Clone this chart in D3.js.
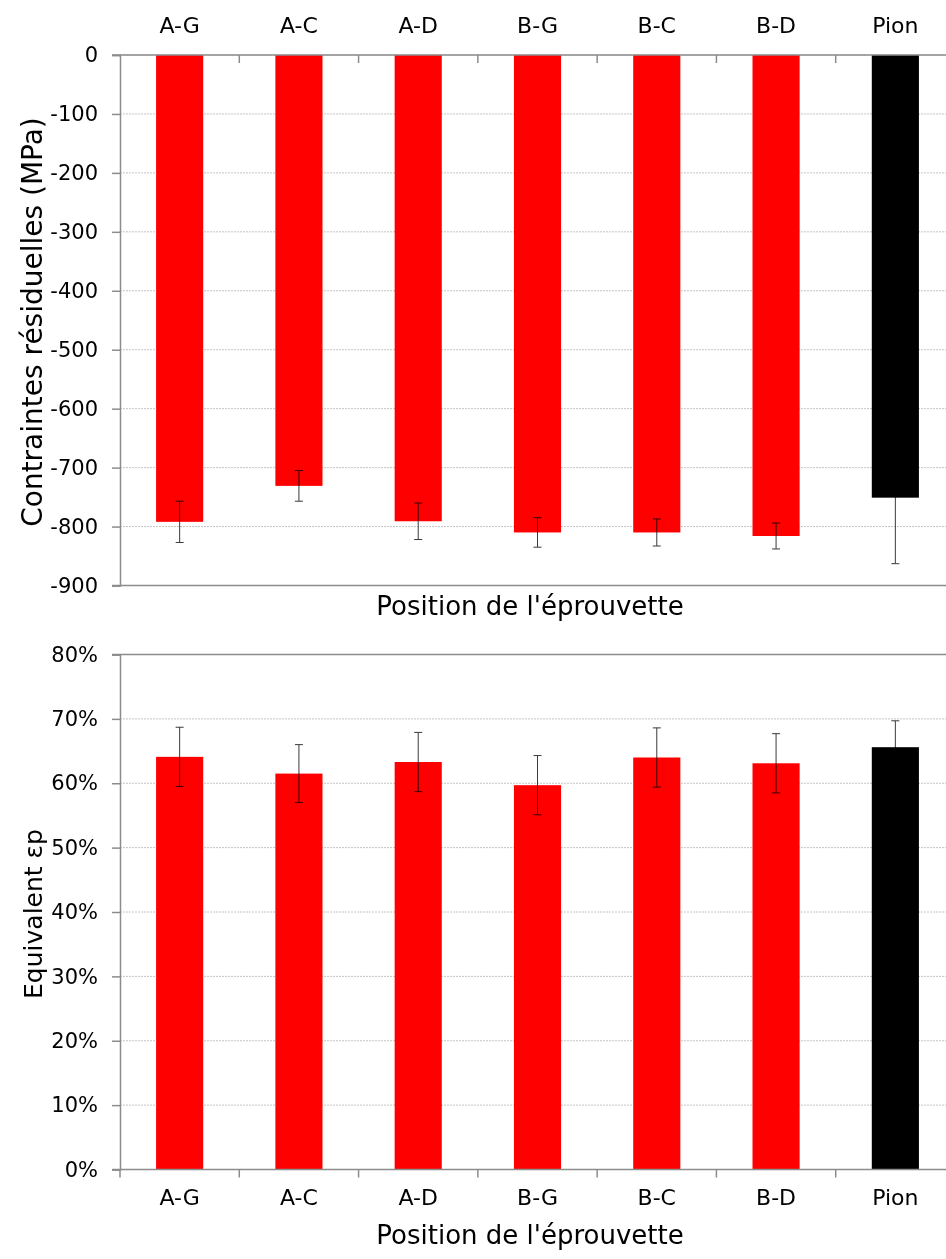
<!DOCTYPE html>
<html>
<head>
<meta charset="utf-8">
<script src="https://cdn.jsdelivr.net/npm/d3@7"></script>
<style>
  body { margin: 0; background: #fff; }
  text { font-family: "DejaVu Sans", sans-serif; fill: #000; }
</style>
</head>
<body>
<script>
// data
const categories = ["A-G", "A-C", "A-D", "B-G", "B-C", "B-D", "Pion"];
const stressValues = [-792, -731, -791, -810, -810, -816, -751];
const stressErrors = [35, 26, 31, 25, 23, 22, 112];
const strainValues = [0.641, 0.615, 0.633, 0.597, 0.640, 0.631, 0.656];
const strainErrors = [0.046, 0.045, 0.046, 0.046, 0.046, 0.046, 0.041];
const barColors = ["#ff0000", "#ff0000", "#ff0000", "#ff0000", "#ff0000", "#ff0000", "#000000"];
const stressTicks = d3.range(-900, 1, 100);
const strainTicks = d3.range(0, 9).map(d => d / 10);

const width = 946, height = 1259;
const svg = d3.select("body").append("svg").attr("width", width).attr("height", height);

const axisColor = "#8c8c8c";
const gridColor = "#c4c4c4";
const errColor = "#3a3a3a";

// shared x scale (plot runs past the right edge, as in the picture)
const x = d3.scaleBand().domain(categories).range([120, 955]).padding(0);
const barW = x.bandwidth() * 0.395;

function drawChart(opts) {
  const { y, ticks, values, errors, fmt, top, bottom, xAtTop, yTitle, yTitleY, yTitleSize, xTitleY } = opts;
  const g = svg.append("g");

  // gridlines
  g.selectAll("line.grid").data(ticks).enter().append("line")
    .attr("class", "grid")
    .attr("x1", 120).attr("x2", width)
    .attr("y1", d => y(d)).attr("y2", d => y(d))
    .attr("stroke", gridColor).attr("stroke-width", 1)
    .attr("stroke-dasharray", "2,1");

  // bars
  const data = categories.map((c, i) => ({ c, v: values[i], e: errors[i], col: barColors[i] }));
  g.selectAll("rect.bar").data(data).enter().append("rect")
    .attr("class", "bar")
    .attr("x", d => x(d.c) + x.bandwidth() / 2 - barW / 2)
    .attr("width", barW)
    .attr("y", d => Math.min(y(0), y(d.v)))
    .attr("height", d => Math.abs(y(d.v) - y(0)))
    .attr("fill", d => d.col);

  // error bars (multiply so they vanish on the black bar)
  const eb = g.selectAll("g.err").data(data).enter().append("g").attr("class", "err")
    .attr("stroke", errColor).attr("stroke-width", 1)
    .style("mix-blend-mode", "multiply");
  const cx = d => x(d.c) + x.bandwidth() / 2;
  eb.append("line").attr("x1", cx).attr("x2", cx)
    .attr("y1", d => y(d.v - d.e)).attr("y2", d => y(d.v + d.e));
  eb.append("line").attr("x1", d => cx(d) - 4).attr("x2", d => cx(d) + 4)
    .attr("y1", d => y(d.v - d.e)).attr("y2", d => y(d.v - d.e));
  eb.append("line").attr("x1", d => cx(d) - 4).attr("x2", d => cx(d) + 4)
    .attr("y1", d => y(d.v + d.e)).attr("y2", d => y(d.v + d.e));

  // y axis
  const yAxis = d3.axisLeft(y).tickValues(ticks).tickFormat(fmt).tickSize(8).tickPadding(14);
  const ya = g.append("g").attr("transform", "translate(120,0)").call(yAxis);
  ya.select(".domain").attr("stroke", axisColor).attr("stroke-width", 1.5);
  ya.selectAll(".tick line").attr("stroke", axisColor).attr("stroke-width", 1.5);
  ya.selectAll(".tick text").style("font-size", "21px").attr("fill", "#000");

  // frame lines at top and bottom of plot
  [top, bottom].forEach(v => {
    g.append("line").attr("x1", 112).attr("x2", width)
      .attr("y1", y(v)).attr("y2", y(v))
      .attr("stroke", axisColor).attr("stroke-width", 1.5);
  });

  // category axis
  const xAxisY = y(0);
  const xAxis = (xAtTop ? d3.axisTop(x) : d3.axisBottom(x)).tickSize(0).tickPadding(xAtTop ? 22 : 20);
  const xa = g.append("g").attr("transform", `translate(0,${xAxisY})`).call(xAxis);
  xa.select(".domain").remove();
  xa.selectAll(".tick text").style("font-size", "22px").attr("fill", "#000");
  // tick marks between categories
  g.selectAll("line.cat").data(categories.slice(1)).enter().append("line")
    .attr("x1", d => x(d)).attr("x2", d => x(d))
    .attr("y1", xAxisY).attr("y2", xAxisY + 8)
    .attr("stroke", axisColor).attr("stroke-width", 1.5);
  if (!xAtTop) {
    g.append("line").attr("x1", 120).attr("x2", 120)
      .attr("y1", xAxisY).attr("y2", xAxisY + 8)
      .attr("stroke", axisColor).attr("stroke-width", 1.5);
  }

  // titles
  g.append("text").attr("transform", `translate(42,${yTitleY}) rotate(-90)`)
    .attr("text-anchor", "middle").style("font-size", yTitleSize).text(yTitle);
  g.append("text").attr("x", 530).attr("y", xTitleY)
    .attr("text-anchor", "middle").style("font-size", "26px").text("Position de l'éprouvette");
}

const yTop = d3.scaleLinear().domain([-900, 0]).range([585.5, 55]);
drawChart({
  y: yTop, ticks: stressTicks, values: stressValues, errors: stressErrors,
  fmt: d => d3.format("d")(d).replace("−", "-"), top: 0, bottom: -900, xAtTop: true,
  yTitle: "Contraintes résiduelles (MPa)", yTitleY: 322, yTitleSize: "28px", xTitleY: 615
});

const yBot = d3.scaleLinear().domain([0, 0.8]).range([1169.5, 654.5]);
drawChart({
  y: yBot, ticks: strainTicks, values: strainValues, errors: strainErrors,
  fmt: d3.format(".0%"), top: 0.8, bottom: 0, xAtTop: false,
  yTitle: "Equivalent εp", yTitleY: 914, yTitleSize: "25px", xTitleY: 1244
});
</script>
</body>
</html>
